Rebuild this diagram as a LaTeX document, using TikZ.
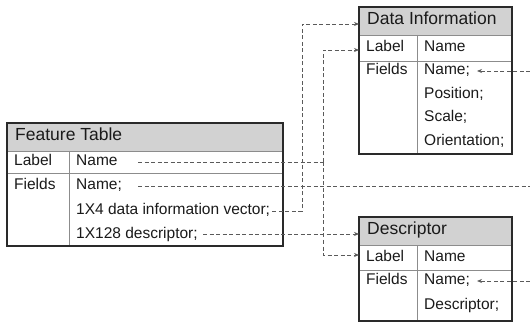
\documentclass[tikz,border=0pt]{standalone}
\usepackage{fontspec}
\setmainfont{Liberation Sans}
\usetikzlibrary{arrows.meta}
\definecolor{ink}{HTML}{1A1A1A}
\definecolor{frame}{HTML}{2A2A2A}
\definecolor{rulegray}{HTML}{8C8C8C}
\definecolor{head}{HTML}{D2D2D2}
\definecolor{link}{HTML}{5A5A5A}
\tikzset{
  ttl/.style={anchor=west, inner sep=0pt, text height=0.72em, text depth=0pt,
              font=\fontsize{17.5}{18}\selectfont, text=ink},
  cell/.style={anchor=west, inner sep=0pt, text height=0.72em, text depth=0pt,
               font=\fontsize{15.5}{16}\selectfont, text=ink},
  outer/.style={draw=frame, line width=1.8pt},
  inner/.style={draw=rulegray, line width=0.9pt},
  plain/.style={draw=link, line width=0.8pt, dash pattern=on 4pt off 2.5pt},
  conn/.style={plain, -{Stealth[length=5pt,width=4pt]}},
}
\begin{document}
\begin{tikzpicture}[x=1pt, y=-1pt]
\useasboundingbox (0,0) rectangle (530,323);

% ---------- Feature Table ----------
\fill[head] (7,123) rectangle (283,151);
\draw[inner] (7,151) -- (283,151);
\draw[inner] (7,173) -- (283,173);
\draw[inner] (69,151) -- (69,246);
\draw[outer] (7,123) rectangle (283,246);
\node[ttl]  (fttitle) at (15,137) {Feature Table};
\node[cell] (ftlab)   at (14,162) {Label};
\node[cell] (ftname)  at (76,162) {Name};
\node[cell] (ftfld)   at (14,186) {Fields};
\node[cell] (ftf1)    at (76,186) {Name;};
\node[cell] (ftf2)    at (76,211) {1X4 data information vector;};
\node[cell] (ftf3)    at (76,235) {1X128 descriptor;};

% ---------- Data Information ----------
\fill[head] (359,7) rectangle (512,35);
\draw[inner] (359,35) -- (512,35);
\draw[inner] (359,61) -- (512,61);
\draw[inner] (417,35) -- (417,154);
\draw[outer] (359,7) rectangle (512,154);
\node[ttl]  (dititle) at (367,21)  {Data Information};
\node[cell] (dilab)   at (366,48)  {Label};
\node[cell] (diname)  at (424,48)  {Name};
\node[cell] (difld)   at (366,71)  {Fields};
\node[cell] (dif1)    at (424,71)  {Name;};
\node[cell] (dif2)    at (424,95)  {Position;};
\node[cell] (dif3)    at (424,118) {Scale;};
\node[cell] (dif4)    at (424,142) {Orientation;};

% ---------- Descriptor ----------
\fill[head] (359,217) rectangle (512,245);
\draw[inner] (359,245) -- (512,245);
\draw[inner] (359,270) -- (512,270);
\draw[inner] (417,245) -- (417,321);
\draw[outer] (359,217) rectangle (512,321);
\node[ttl]  (detitle) at (367,231) {Descriptor};
\node[cell] (delab)   at (366,258) {Label};
\node[cell] (dename)  at (424,258) {Name};
\node[cell] (defld)   at (366,281) {Fields};
\node[cell] (def1)    at (424,281) {Name;};
\node[cell] (def2)    at (424,306) {Descriptor;};

% ---------- link points ----------
\coordinate (diTin)  at (359,24);
\coordinate (diLin)  at (359,50);
\coordinate (deTin)  at (359,234);
\coordinate (deLin)  at (359,255);
\coordinate (bendA)  at (302,24);
\coordinate (joinB)  at (323,162);
\coordinate (lnFrom) at (138,162);
\coordinate (fnFrom) at (138,186);
\coordinate (fnTo)   at (530,186);
\coordinate (dsFrom) at (203,234);
\coordinate (rA)     at (530,71);
\coordinate (rB)     at (530,281);
\coordinate (diNin)  at (477,71);
\coordinate (deNin)  at (477,281);

% ---------- connectors ----------
\draw[conn]  ([xshift=2pt]ftf2.east) -| (bendA) -- (diTin);
\draw[plain] (lnFrom) -- (joinB);
\draw[conn]  (joinB) |- (diLin);
\draw[conn]  (joinB) |- (deLin);
\draw[plain] (fnFrom) -- (fnTo);
\draw[conn]  (dsFrom) -- (deTin);
\draw[conn]  (rA) -- (diNin);
\draw[conn]  (rB) -- (deNin);
\end{tikzpicture}
\end{document}
